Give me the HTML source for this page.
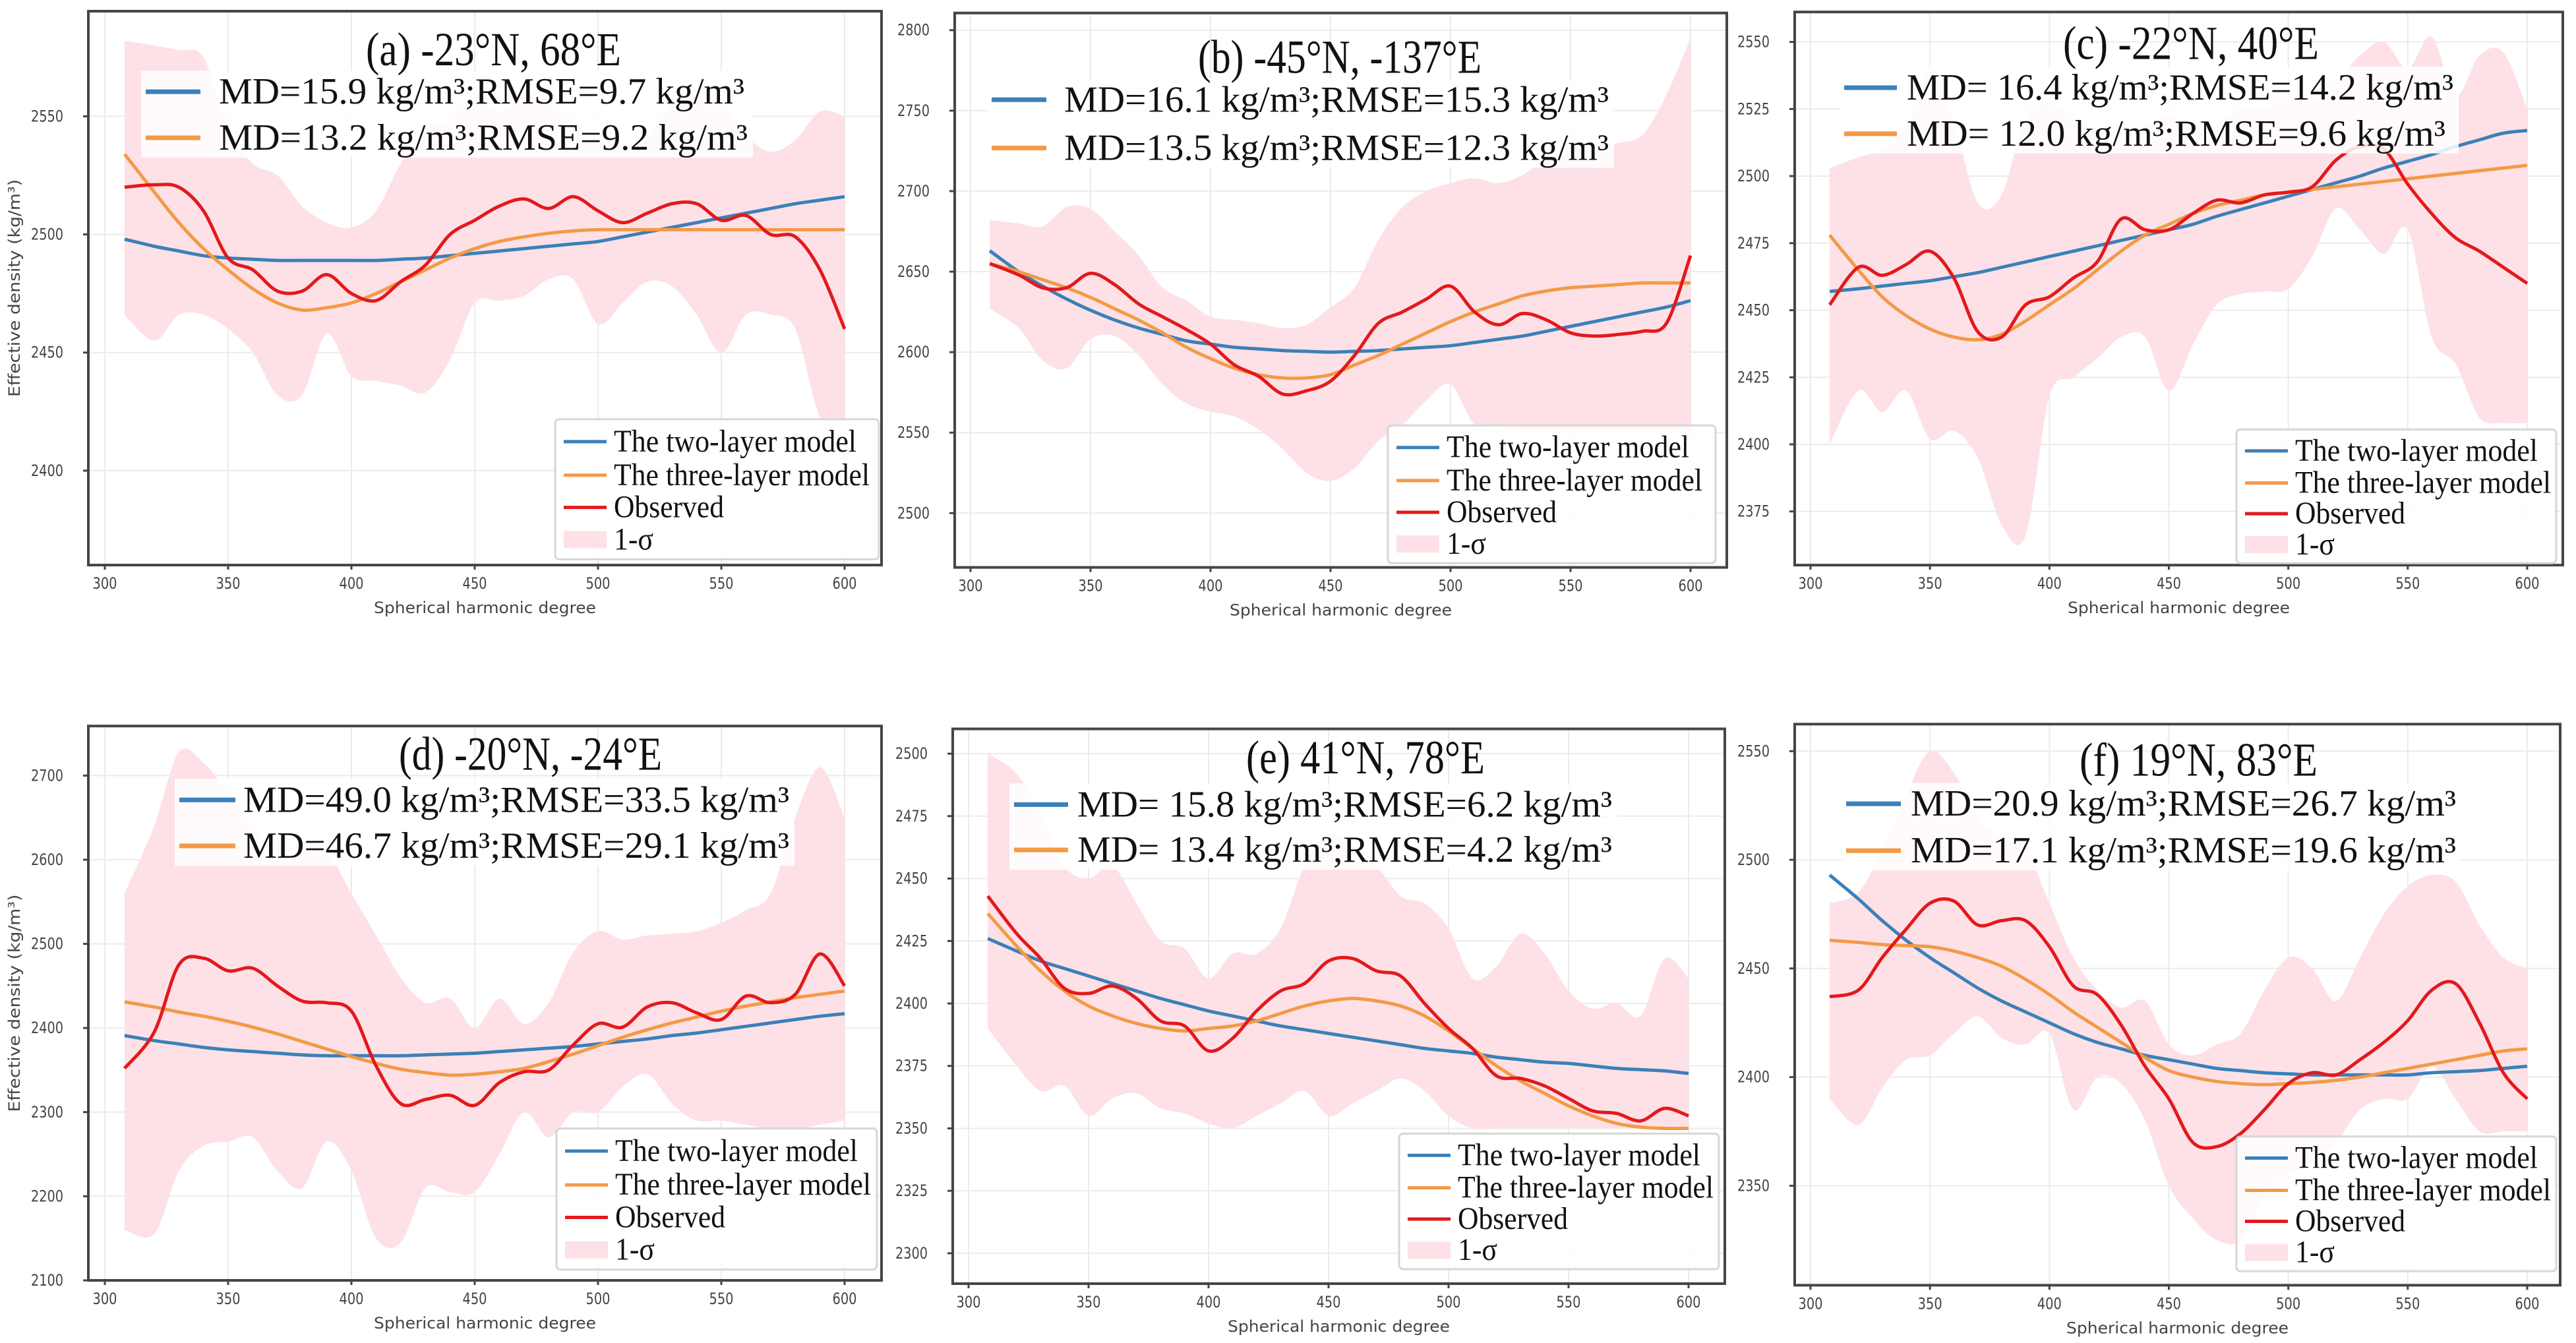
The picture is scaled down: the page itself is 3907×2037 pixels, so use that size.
<!DOCTYPE html>
<html><head><meta charset="utf-8"><style>
html,body{margin:0;padding:0;background:#fff;overflow:hidden;}
svg{display:block;}
</style></head><body>
<svg id="fig" xmlns="http://www.w3.org/2000/svg" width="3907" height="2037" viewBox="0 0 3907 2037"></svg>
<script>
const degrees=[308,320,330,340,350,360,370,380,390,400,410,420,430,440,450,460,470,480,490,500,510,520,530,540,550,560,570,580,590,600];
const xTicks=[300,350,400,450,500,550,600];
// (a)
const aTwo=[2498,2495,2493,2491,2490,2489.5,2489,2489,2489,2489,2489,2489.5,2490,2491,2492,2493,2494,2495,2496,2497,2499,2501,2503,2505,2507,2509,2511,2513,2514.5,2516];
const aThree=[2534,2518,2505,2494,2485,2477,2471,2468,2469,2471,2475,2480,2485,2490,2494,2497,2499,2500.5,2501.5,2502,2502,2502,2502,2502,2502,2502,2502,2502,2502,2502];
const aObs=[2520,2521,2520,2510,2490,2485,2476,2476,2483,2475,2472,2480,2487,2500,2506,2512,2515,2511,2516,2510,2505,2509,2513,2513,2506,2508,2500,2499,2485,2460];
const aUpper=[2582,2580,2578,2575,2545,2530,2525,2512,2505,2503,2510,2530,2545,2548,2558,2552,2560,2558,2548,2540,2538,2542,2555,2562,2558,2542,2535,2540,2552,2550];
const aLower=[2466,2455,2466,2466,2460,2450,2432,2432,2458,2440,2438,2436,2433,2447,2471,2472,2474,2481,2481,2462,2471,2480,2478,2466,2450,2466,2466,2460,2423,2421];
const aYTicks=[2400,2450,2500,2550];
// (b)
const bTwo=[2663,2650,2641,2633,2626,2620,2615,2611,2607,2605,2603,2602,2601,2600.5,2600,2600.5,2601,2602,2603,2604,2606,2608,2610,2613,2616,2619,2622,2625,2628,2632];
const bThree=[2655,2650,2645,2640,2634,2627,2620,2612,2603,2596,2590,2586,2584,2584,2586,2592,2598,2605,2612,2619,2625,2630,2635,2638,2640,2641,2642,2643,2643,2643];
const bObs=[2655,2648,2640,2640,2649,2642,2630,2622,2614,2605,2592,2585,2574,2576,2582,2598,2618,2625,2633,2641,2625,2617,2624,2620,2612,2610,2611,2613,2618,2660];
const bUpper=[2682,2680,2678,2690,2689,2675,2660,2640,2632,2622,2620,2618,2615,2617,2628,2640,2670,2690,2700,2705,2708,2705,2710,2720,2725,2728,2730,2735,2760,2795];
const bLower=[2627,2615,2595,2590,2608,2610,2598,2580,2568,2563,2560,2552,2540,2525,2520,2528,2545,2555,2570,2580,2555,2555,2550,2550,2550,2550,2550,2550,2550,2550];
const bYTicks=[2500,2550,2600,2650,2700,2750,2800];
// (c)
const cTwo=[2457,2458,2459,2460,2461,2462.5,2464,2466,2468,2470,2472,2474,2476,2478,2480,2482,2485,2487.5,2490,2492.5,2495,2497.5,2500,2503,2505.5,2508,2511,2513.5,2516,2517];
const cThree=[2478,2465,2455,2448,2443,2440,2439,2441,2446,2452,2458,2465,2472,2478,2482,2486,2489,2491,2493,2494,2495,2496,2497,2498,2499,2500,2501,2502,2503,2504];
const cObs=[2452,2466,2463,2467,2472,2462,2442,2440,2452,2455,2462,2468,2484,2480,2480,2486,2491,2490,2493,2494,2496,2506,2511,2510,2497,2486,2477,2472,2466,2460];
const cUpper=[2503,2507,2510,2518,2540,2520,2490,2493,2522,2527,2520,2518,2510,2518,2523,2518,2520,2525,2525,2530,2528,2535,2545,2550,2540,2552,2530,2545,2546,2525];
const cLower=[2400,2420,2412,2420,2402,2405,2395,2370,2366,2418,2425,2432,2440,2440,2420,2437,2452,2456,2457,2458,2470,2488,2480,2471,2480,2440,2430,2410,2408,2408];
const cYTicks=[2375,2400,2425,2450,2475,2500,2525,2550];
// (d)
const dTwo=[2391,2385,2381,2377,2374,2372,2370,2368,2367,2367,2367,2367,2368,2369,2370,2372,2374,2376,2378,2381,2384,2387,2391,2394,2398,2402,2406,2410,2414,2417];
const dThree=[2431,2425,2419,2414,2408,2401,2393,2384,2375,2366,2358,2351,2347,2344,2345,2348,2352,2360,2369,2379,2389,2398,2406,2413,2420,2426,2431,2436,2440,2444];
const dObs=[2352,2395,2475,2483,2468,2471,2450,2432,2430,2420,2355,2310,2315,2320,2308,2335,2348,2350,2380,2405,2401,2425,2430,2418,2410,2438,2430,2440,2488,2450];
const dUpper=[2560,2640,2728,2715,2680,2640,2610,2620,2610,2560,2510,2460,2430,2435,2400,2435,2405,2430,2490,2515,2505,2510,2512,2515,2525,2540,2560,2650,2710,2650];
const dLower=[2160,2155,2230,2260,2265,2270,2230,2210,2265,2230,2150,2145,2210,2205,2205,2250,2300,2270,2300,2300,2330,2345,2310,2290,2290,2285,2280,2280,2285,2290];
const dYTicks=[2100,2200,2300,2400,2500,2600,2700];
// (e)
const eTwo=[2426,2421,2417,2414,2411,2408,2405,2402,2399.5,2397,2395,2393,2391,2389.5,2388,2386.5,2385,2383.5,2382,2381,2380,2378.5,2377.5,2376.5,2376,2375,2374,2373.5,2373,2372];
const eThree=[2436,2423,2413,2405,2399,2395,2392,2390,2389,2390,2391,2393,2396,2399,2401,2402,2401,2399,2395,2389,2382,2375,2369,2364,2359,2355,2352,2350.5,2350,2350];
const eObs=[2443,2428,2418,2406,2404,2407,2402,2393,2391,2381,2386,2397,2405,2408,2417,2418,2413,2411,2400,2390,2382,2371,2370,2367,2362,2357,2356,2353,2358,2355];
const eUpper=[2500,2492,2476,2455,2450,2455,2440,2425,2422,2410,2420,2420,2430,2455,2468,2462,2455,2443,2440,2430,2410,2415,2428,2420,2405,2398,2400,2395,2418,2410];
const eLower=[2390,2375,2365,2367,2355,2362,2364,2358,2356,2352,2350,2355,2360,2365,2355,2360,2365,2370,2365,2355,2350,2350,2350,2350,2350,2350,2350,2350,2350,2350];
const eYTicks=[2300,2325,2350,2375,2400,2425,2450,2475,2500];
// (f)
const fTwo=[2493,2482,2472,2463,2455,2448,2441,2435,2430,2425,2420,2416,2413,2410,2408,2406,2404,2403,2402,2401.5,2401,2401,2401,2401,2401,2402,2402.5,2403,2404,2405];
const fThree=[2463,2462,2461,2460.5,2460,2458,2455,2451,2445,2438,2430,2423,2416,2409,2403,2400,2398,2397,2396.5,2397,2397.5,2398.5,2400,2402,2404,2406,2408,2410,2412,2413];
const fObs=[2437,2440,2455,2468,2480,2481,2470,2472,2472,2460,2442,2438,2424,2405,2390,2370,2368,2374,2385,2397,2402,2401,2408,2416,2426,2440,2443,2425,2402,2390];
const fUpper=[2480,2485,2505,2530,2550,2540,2520,2510,2505,2480,2455,2440,2432,2435,2415,2410,2415,2420,2440,2455,2450,2435,2455,2475,2488,2493,2490,2470,2455,2450];
const fLower=[2390,2378,2395,2408,2410,2420,2428,2418,2415,2420,2385,2400,2397,2380,2350,2335,2325,2325,2345,2355,2360,2370,2385,2390,2390,2405,2390,2375,2375,2375];
const fYTicks=[2350,2400,2450,2500,2550];

const titles=["(a) -23°N, 68°E","(b) -45°N, -137°E","(c) -22°N, 40°E","(d) -20°N, -24°E","(e) 41°N, 78°E","(f) 19°N, 83°E"];
const legendTwo=["MD=15.9 kg/m³;RMSE=9.7 kg/m³","MD=16.1 kg/m³;RMSE=15.3 kg/m³","MD= 16.4 kg/m³;RMSE=14.2 kg/m³","MD=49.0 kg/m³;RMSE=33.5 kg/m³","MD= 15.8 kg/m³;RMSE=6.2 kg/m³","MD=20.9 kg/m³;RMSE=26.7 kg/m³"];
const legendThree=["MD=13.2 kg/m³;RMSE=9.2 kg/m³","MD=13.5 kg/m³;RMSE=12.3 kg/m³","MD= 12.0 kg/m³;RMSE=9.6 kg/m³","MD=46.7 kg/m³;RMSE=29.1 kg/m³","MD= 13.4 kg/m³;RMSE=4.2 kg/m³","MD=17.1 kg/m³;RMSE=19.6 kg/m³"];

const panels=[
 {id:'a',two:aTwo,three:aThree,obs:aObs,up:aUpper,lo:aLower,yt:aYTicks,yo:0,r:0.6786,x3:159,x6:1281,v1:2550,p1:260,v2:2400,p2:1052,f:[134,25,1337,1263],tx:555,ty:134,tw:387,ll:[221,304,332,205,308],lw:[797,802],lg:[842,937,1333,1250],ylab:true},
 {id:'b',two:bTwo,three:bThree,obs:bObs,up:bUpper,lo:bLower,yt:bYTicks,yo:0,r:0.7037,x3:1472,x6:2564,v1:2800,p1:65,v2:2500,p2:1106,f:[1448,28,2619,1223],tx:1817,ty:146,tw:430,ll:[1504,1587,1614,215,319],lw:[826,826],lg:[2105,917,2602,1214]},
 {id:'c',two:cTwo,three:cThree,obs:cObs,up:cUpper,lo:cLower,yt:cYTicks,yo:0,r:0.727,x3:2746,x6:3833,v1:2550,p1:87.5,v2:2375,p2:1067,f:[2722,25,3887,1179],tx:3129,ty:112,tw:388,ll:[2797,2877,2892,183,279],lw:[829,817],lg:[3392,896,3877,1175]},
 {id:'d',two:dTwo,three:dThree,obs:dObs,up:dUpper,lo:dLower,yt:dYTicks,yo:1080,r:0.6836,x3:159,x6:1281,v1:2700,p1:1221,v2:2100,p2:2341,f:[134,1111,1337,2341],tx:605,ty:1196,tw:399,ll:[272,357,369,1275,1377],lw:[828,828],lg:[844,2004,1330,2317],ylab:true},
 {id:'e',two:eTwo,three:eThree,obs:eObs,up:eUpper,lo:eLower,yt:eYTicks,yo:1080,r:0.7089,x3:1469,x6:2561,v1:2500,p1:1169,v2:2300,p2:2238,f:[1445,1116,2616,2303],tx:1890,ty:1200,tw:362,ll:[1538,1620,1634,1278,1375],lw:[811,811],lg:[2122,1982,2607,2272]},
 {id:'f',two:fTwo,three:fThree,obs:fObs,up:fUpper,lo:fLower,yt:fYTicks,yo:1080,r:0.7324,x3:2746,x6:3833,v1:2550,p1:1161,v2:2350,p2:2061,f:[2722,1105,3883,2267],tx:3154,ty:1201,tw:361,ll:[2800,2883,2898,1270,1367],lw:[827,827],lg:[3392,1959,3877,2238]}
];
const NS='http://www.w3.org/2000/svg';
const svg=document.getElementById('fig');
const BLUE='#3b80b9',ORANGE='#f39a45',RED='#e3191c',PINK='#fde1e6';
function mk(tag,attrs,parent){const e=document.createElementNS(NS,tag);for(const k in attrs)e.setAttribute(k,attrs[k]);(parent||svg).appendChild(e);return e;}
function smooth(pts){let d='M'+pts[0][0].toFixed(1)+','+pts[0][1].toFixed(1);
 for(let i=0;i<pts.length-1;i++){const p0=pts[i-1]||pts[i],p1=pts[i],p2=pts[i+1],p3=pts[i+2]||p2;
  const c1=[p1[0]+(p2[0]-p0[0])/6,p1[1]+(p2[1]-p0[1])/6],c2=[p2[0]-(p3[0]-p1[0])/6,p2[1]-(p3[1]-p1[1])/6];
  d+=' C'+c1[0].toFixed(1)+','+c1[1].toFixed(1)+' '+c2[0].toFixed(1)+','+c2[1].toFixed(1)+' '+p2[0].toFixed(1)+','+p2[1].toFixed(1);}
 return d;}
panels.forEach((P,pi)=>{
 const Y=v=>P.yo+(v-P.yo)*P.r;
 const g=mk('g',{});
 
 
 const p1=Y(P.p1),p2=Y(P.p2);
 const xs=v=>P.x3+(v-300)*(P.x6-P.x3)/300;
 const ys=v=>p1+(v-P.v1)*(p2-p1)/(P.v2-P.v1);
 const L=P.f[0],T=Y(P.f[1]),R=P.f[2],B=Y(P.f[3]);
 const clipId='clip'+P.id;
 const cp=mk('clipPath',{id:clipId},g);mk('rect',{x:L,y:T,width:R-L,height:B-T},cp);
 xTicks.forEach(t=>{const l=mk('line',{x1:xs(t),x2:xs(t),y1:T,y2:B,stroke:'#ebebeb','stroke-width':2},g);
  });
 P.yt.forEach(t=>{const l=mk('line',{x1:L,x2:R,y1:ys(t),y2:ys(t),stroke:'#ebebeb','stroke-width':2},g);
  });
 const plot=mk('g',{'clip-path':'url(#'+clipId+')'},g);
 const upPts=degrees.map((d,i)=>[xs(d),ys(P.up[i])]);
 const loPts=degrees.map((d,i)=>[xs(d),ys(P.lo[i])]).reverse();
 const band=mk('path',{d:smooth(upPts)+' L'+smooth(loPts).slice(1)+' Z',fill:PINK},plot);
 
 const lines=[[P.two,BLUE,'two-layer-line'],[P.three,ORANGE,'three-layer-line'],[P.obs,RED,'observed-line']];
 lines.forEach(([arr,col,nm])=>{const pts=degrees.map((d,i)=>[xs(d),ys(arr[i])]);
  const p=mk('path',{d:smooth(pts),fill:'none',stroke:col,'stroke-width':5,'stroke-linejoin':'round'},plot);
  });
 const fr=mk('rect',{x:L,y:T,width:R-L,height:B-T,fill:'none',stroke:'#454545','stroke-width':4},g);
 
 xTicks.forEach(t=>{mk('line',{x1:xs(t),x2:xs(t),y1:B,y2:B+7,stroke:'#454545','stroke-width':3},g);
  const tx=mk('text',{x:xs(t),y:B+36,'text-anchor':'middle','font-family':'DejaVu Sans, Liberation Sans, sans-serif','font-size':24,fill:'#444',textLength:37,lengthAdjust:'spacingAndGlyphs'},g);
  tx.textContent=t;});
 P.yt.forEach(t=>{mk('line',{x1:L-8,x2:L,y1:ys(t),y2:ys(t),stroke:'#454545','stroke-width':3},g);
  const tx=mk('text',{x:L-38,y:ys(t)+8,'text-anchor':'end','font-family':'DejaVu Sans, Liberation Sans, sans-serif','font-size':24,fill:'#444',textLength:49,lengthAdjust:'spacingAndGlyphs'},g);
  tx.textContent=t;});
 const xl=mk('text',{x:(L+R)/2,y:B+73,'text-anchor':'middle','font-family':'DejaVu Sans, Liberation Sans, sans-serif','font-size':24,fill:'#444',textLength:337,lengthAdjust:'spacingAndGlyphs'},g);
 xl.textContent='Spherical harmonic degree';
 if(P.ylab){const cy=(T+B)/2;const yl=mk('text',{x:22,y:cy,'text-anchor':'middle','font-family':'DejaVu Sans, Liberation Sans, sans-serif','font-size':24,fill:'#444',textLength:330,lengthAdjust:'spacingAndGlyphs',transform:'rotate(-90 22 '+cy+') translate(0 8)'},g);
  yl.textContent='Effective density (kg/m³)';}
 const lx0=P.ll[0],lx1=P.ll[1],ltx=P.ll[2],ly1=Y(P.ll[3]),ly2=Y(P.ll[4]);
 const lb=mk('rect',{x:lx0-7,y:ly1-32,width:ltx+Math.max(P.lw[0],P.lw[1])+8-(lx0-7),height:ly2-ly1+62,fill:'#fff','fill-opacity':0.85},g);
 
 [[ly1,BLUE,legendTwo[pi],P.lw[0],'two-layer'],[ly2,ORANGE,legendThree[pi],P.lw[1],'three-layer']].forEach(([yy,col,txt,w,nm])=>{
  const l=mk('line',{x1:lx0,x2:lx1,y1:yy,y2:yy,stroke:col,'stroke-width':7},g);
  
  const t=mk('text',{x:ltx,y:yy+18,'font-family':'Liberation Serif, serif','font-size':56,fill:'#111',textLength:w,lengthAdjust:'spacingAndGlyphs'},g);
  t.textContent=txt;});
 const tt=mk('text',{x:P.tx,y:Y(P.ty)+8,'font-family':'Liberation Serif, serif','font-size':72,fill:'#111',textLength:P.tw,lengthAdjust:'spacingAndGlyphs'},g);
 tt.textContent=titles[pi];
 const gx0=P.lg[0],gy0=Y(P.lg[1]),gx1=P.lg[2],gy1=Y(P.lg[3]);const H=gy1-gy0;
 const lg=mk('rect',{x:gx0,y:gy0,width:gx1-gx0,height:H,rx:6,fill:'#fff','fill-opacity':0.85,stroke:'#d6d6d6','stroke-width':3},g);
 
 const ent=[['The two-layer model',BLUE,368],['The three-layer model',ORANGE,388],['Observed',RED,167],['1-σ',null,60]];
 const fr2=[0.16,0.40,0.63,0.86];
 ent.forEach(([txt,col,w],k)=>{const yy=gy0+fr2[k]*H;
  if(col){const l=mk('line',{x1:gx0+13,x2:gx0+78,y1:yy,y2:yy,stroke:col,'stroke-width':5},g);
   }
  else{const r=mk('rect',{x:gx0+13,y:yy-13,width:65,height:26,fill:PINK},g);
   }
  const t=mk('text',{x:gx0+89,y:yy+15,'font-family':'Liberation Serif, serif','font-size':48,fill:'#111',textLength:w,lengthAdjust:'spacingAndGlyphs'},g);
  t.textContent=txt;});
});
</script>
</body></html>
